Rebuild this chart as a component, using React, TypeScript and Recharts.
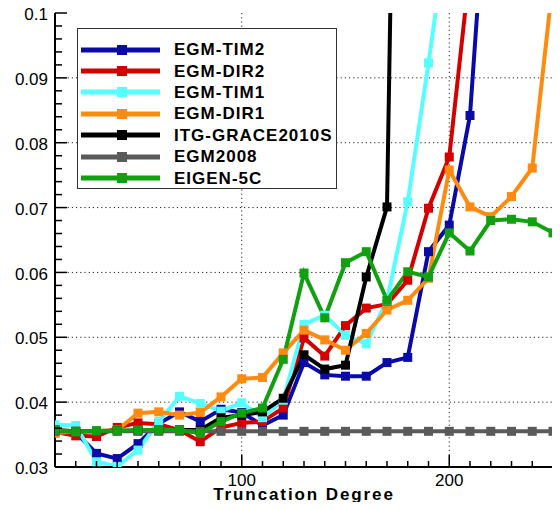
import React from 'react';
import { LineChart, Line, XAxis, YAxis, CartesianGrid, Legend } from 'recharts';

const degrees = [10, 20, 30, 40, 50, 60, 70, 80, 90, 100, 110, 120, 130, 140, 150, 160, 170, 180, 190, 200, 210, 220, 230, 240, 250];

const egmTim2 = [0.0357, 0.0353, 0.0321, 0.0313, 0.0336, 0.0367, 0.0385, 0.037, 0.0389, 0.0384, 0.0364, 0.038, 0.0461, 0.0442, 0.044, 0.044, 0.0461, 0.0469, 0.0632, 0.0673, 0.0842, 0.13, null, null, null];
const egmDir2 = [0.0354, 0.0348, 0.0347, 0.0361, 0.0368, 0.0366, 0.0357, 0.0339, 0.0361, 0.0368, 0.037, 0.0391, 0.0499, 0.0471, 0.0518, 0.0545, 0.0551, 0.0588, 0.0699, 0.0778, 0.107, null, null, null, null];
const egmTim1 = [0.0365, 0.0364, 0.0308, 0.0301, 0.0326, 0.037, 0.0409, 0.0398, 0.0386, 0.0399, 0.0376, 0.0403, 0.052, 0.0534, 0.0503, 0.049, 0.0557, 0.0709, 0.0923, 0.115, null, null, null, null, null];
const egmDir1 = [0.0352, 0.0355, 0.0355, 0.0357, 0.0383, 0.0385, 0.038, 0.0384, 0.0408, 0.0436, 0.0438, 0.0476, 0.0511, 0.0496, 0.048, 0.0506, 0.0542, 0.0557, 0.0591, 0.0758, 0.0701, 0.0686, 0.0717, 0.0761, 0.105];
const itgGrace2010s = [0.0357, 0.0355, 0.0355, 0.0356, 0.0356, 0.0357, 0.0357, 0.0357, 0.0376, 0.038, 0.0385, 0.0406, 0.0473, 0.0451, 0.0457, 0.0593, 0.0701, 0.26, null, null, null, null, null, null, null];
const egm2008 = [0.0355, 0.0355, 0.0355, 0.0355, 0.0355, 0.0355, 0.0355, 0.0355, 0.0355, 0.0355, 0.0355, 0.0355, 0.0355, 0.0355, 0.0355, 0.0355, 0.0355, 0.0355, 0.0355, 0.0355, 0.0355, 0.0355, 0.0355, 0.0355, 0.0355];
const eigen5c = [0.0357, 0.0354, 0.0356, 0.0356, 0.0357, 0.0357, 0.0357, 0.0352, 0.037, 0.0383, 0.0391, 0.0466, 0.0599, 0.053, 0.0615, 0.0632, 0.0557, 0.0601, 0.0593, 0.0661, 0.0633, 0.068, 0.0682, 0.0678, 0.0661];

const seriesNames = ['EGM-TIM2', 'EGM-DIR2', 'EGM-TIM1', 'EGM-DIR1', 'ITG-GRACE2010S', 'EGM2008', 'EIGEN-5C'];
const seriesKeys = ['tim2', 'dir2', 'tim1', 'dir1', 'itg', 'egm2008', 'eigen'];
const seriesValues = [egmTim2, egmDir2, egmTim1, egmDir1, itgGrace2010s, egm2008, eigen5c];
const seriesColors = ['#0A0AA8', '#D40000', '#55FFFF', '#FF8A10', '#000000', '#5A5A5A', '#10A010'];

const xTitle = 'Truncation Degree';
const xMajorTicks = [100, 200];
const xTicks = [10, 20, 30, 40, 50, 60, 70, 80, 90, 100, 110, 120, 130, 140, 150, 160, 170, 180, 190, 200, 210, 220, 230, 240, 250];
const yMajorTicks = [0.03, 0.04, 0.05, 0.06, 0.07, 0.08, 0.09, 0.1];
const yTicks = Array.from({ length: 36 }, (_, i) => Math.round((0.03 + i * 0.002) * 1000) / 1000);
const yGrid = [0.04, 0.05, 0.06, 0.07, 0.08, 0.09];

const data = degrees.map((d, i) => {
  const row: any = { d };
  seriesKeys.forEach((k, j) => {
    row[k] = seriesValues[j][i];
  });
  return row;
});

const FONT = '"Liberation Sans", Arial, Helvetica, sans-serif';

const isYMajor = (v: number) => yMajorTicks.some((m) => Math.abs(m - v) < 1e-7);
const isXMajor = (v: number) => xMajorTicks.includes(v);

const LeftTick = (props: any) => {
  const { x, y, payload } = props;
  const major = isYMajor(payload.value);
  return (
    <g>
      <line x1={x} y1={y} x2={x + (major ? 12 : 7)} y2={y} stroke="#000" strokeWidth={1.5} />
      {major && (
        <text x={x - 7} y={y + 1} dy="0.36em" textAnchor="end" fontSize={17} fontFamily={FONT} fill="#000">
          {String(parseFloat(payload.value.toFixed(2)))}
        </text>
      )}
    </g>
  );
};

const RightTick = (props: any) => {
  const { x, y, payload } = props;
  const major = isYMajor(payload.value);
  return <line x1={x} y1={y} x2={x - (major ? 13 : 7)} y2={y} stroke="#000" strokeWidth={1.5} />;
};

const BottomTick = (props: any) => {
  const { x, y, payload } = props;
  const major = isXMajor(payload.value);
  return (
    <g>
      <line x1={x} y1={y} x2={x} y2={y - (major ? 12 : 6)} stroke="#000" strokeWidth={1.5} />
      {major && (
        <text x={x} y={y + 19} textAnchor="middle" fontSize={17} fontFamily={FONT} fill="#000">
          {payload.value}
        </text>
      )}
    </g>
  );
};

const TopTick = (props: any) => {
  const { x, y, payload } = props;
  const major = isXMajor(payload.value);
  return <line x1={x} y1={y} x2={x} y2={y + (major ? 12 : 6)} stroke="#000" strokeWidth={1.5} />;
};

const XTitle = (props: any) => {
  const vb = props.viewBox || {};
  return (
    <text
      x={vb.x + vb.width / 2}
      y={vb.y + 33}
      textAnchor="middle"
      fontSize={17}
      fontWeight="bold"
      letterSpacing={1.9}
      fontFamily={FONT}
      fill="#000"
    >
      {xTitle}
    </text>
  );
};

const makeDot = (color: string) => (props: any) => {
  const { cx, cy, index } = props;
  if (cx == null || cy == null || isNaN(cx) || isNaN(cy)) return <g key={`e-${index}`} />;
  return <rect key={`d-${index}`} x={cx - 4.5} y={cy - 4.5} width={9} height={9} fill={color} />;
};

const renderLegend = () => (
  <div
    style={{
      width: 260,
      height: 161,
      boxSizing: 'border-box',
      border: '1.5px solid #333',
      background: '#fff',
      paddingTop: 10,
    }}
  >
    {seriesNames.map((name, i) => (
      <div key={name} style={{ display: 'flex', alignItems: 'center', height: 21.4 }}>
        <svg width={96} height={14} style={{ flex: 'none' }}>
          <line x1={3} y1={7} x2={82} y2={7} stroke={seriesColors[i]} strokeWidth={5} />
          <rect x={39} y={2} width={10} height={10} fill={seriesColors[i]} />
        </svg>
        <span
          style={{
            fontFamily: FONT,
            fontWeight: 'bold',
            fontSize: 17,
            letterSpacing: 1,
            color: '#000',
            lineHeight: '21px',
            whiteSpace: 'nowrap',
          }}
        >
          {name}
        </span>
      </div>
    ))}
  </div>
);

export default function App() {
  return (
    <div style={{ height: 494 }}>
      <style>{'.recharts-surface { overflow: visible; }'}</style>
      <LineChart
        width={552}
        height={494}
        data={data}
        margin={{ top: 5, right: 7, bottom: 0, left: 0 }}
        style={{ fontFamily: FONT }}
      >
        <CartesianGrid
          horizontal
          vertical
          horizontalValues={yGrid}
          verticalValues={xMajorTicks}
          stroke="#222"
          strokeDasharray="1.2 3"
          strokeWidth={1}
        />
        <XAxis
          dataKey="d"
          type="number"
          domain={[10, 250]}
          ticks={xTicks}
          interval={0}
          allowDataOverflow
          height={35}
          tickSize={0}
          tickMargin={0}
          tickLine={false}
          tick={<BottomTick />}
          axisLine={{ stroke: '#000', strokeWidth: 2 }}
          label={<XTitle />}
        />
        <XAxis
          xAxisId="top"
          orientation="top"
          dataKey="d"
          type="number"
          domain={[10, 250]}
          ticks={xTicks}
          interval={0}
          allowDataOverflow
          height={0}
          tickSize={0}
          tickMargin={0}
          tickLine={false}
          tick={<TopTick />}
          axisLine={{ stroke: '#000', strokeWidth: 2 }}
        />
        <YAxis
          type="number"
          domain={[0.03, 0.1]}
          ticks={yTicks}
          interval={0}
          allowDataOverflow
          width={47}
          tickSize={0}
          tickMargin={0}
          tickLine={false}
          tick={<LeftTick />}
          axisLine={{ stroke: '#000', strokeWidth: 2 }}
        />
        <YAxis
          yAxisId="right"
          orientation="right"
          type="number"
          domain={[0.03, 0.1]}
          ticks={yTicks}
          interval={0}
          allowDataOverflow
          width={0}
          tickSize={0}
          tickMargin={0}
          tickLine={false}
          tick={<RightTick />}
          axisLine={{ stroke: '#000', strokeWidth: 2 }}
        />
        <Legend
          layout="vertical"
          align="center"
          verticalAlign="middle"
          content={renderLegend}
          wrapperStyle={{ position: 'absolute', left: 69, top: 20, width: 260, height: 161 }}
        />
        {seriesKeys.map((k, i) => (
          <Line
            key={k}
            dataKey={k}
            name={seriesNames[i]}
            stroke={seriesColors[i]}
            strokeWidth={4}
            dot={makeDot(seriesColors[i])}
            activeDot={false}
            isAnimationActive={false}
            connectNulls={false}
            type="linear"
          />
        ))}
      </LineChart>
    </div>
  );
}
